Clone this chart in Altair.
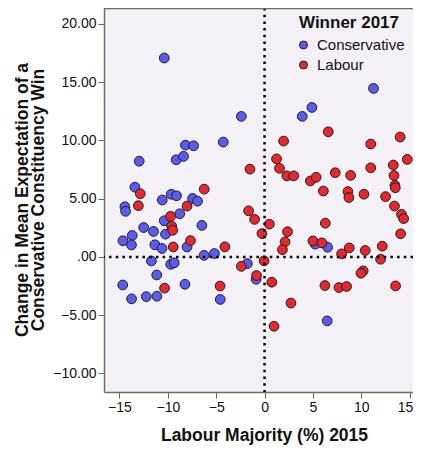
import altair as alt
import pandas as pd

# Conservative winners 2017 (x = Labour majority 2015 %, y = change in expectation)
con_x = [-10.37, -2.4, 11.27, 4.9, 3.9, -8.18, -7.34, -4.27, -12.96, -9.13, -8.38,
         -13.4, -14.44, -14.37, -10.58, -9.65, -9.1, -7.44, -6.93, -8.77, -10.37,
         -6.48, -12.5, -11.48, -13.68, -14.64, -10.24, -13.76, -11.34, -10.6, -8.01,
         -6.25, -5.18, -11.7, -9.7, -9.34, -1.78, -11.15, -0.87, -14.66, -8.23,
         -13.75, -12.23, -11.13, -4.58, 5.24, 6.52, 6.48]
con_y = [17.06, 12.05, 14.45, 12.82, 12.05, 9.59, 9.53, 9.85, 8.21, 8.33, 8.62,
         5.98, 4.3, 3.91, 4.88, 5.37, 5.24, 5.01, 4.78, 3.7, 3.1,
         2.7, 2.52, 2.18, 1.84, 1.38, 1.95, 1.02, 1.04, 0.72, 0.85,
         0.13, 0.29, -0.35, -0.64, -0.51, -0.58, -1.55, -1.92, -2.41, -2.35,
         -3.6, -3.41, -3.37, -3.65, 1.09, 0.83, -5.49]

# Labour winners 2017
lab_x = [-1.51, -12.85, -6.24, -13.05, -8.01, -9.72, -9.6, -9.5, -7.66, -9.44,
         -4.1, -2.4, -0.05, -0.83, 0.75, -10.34, -4.6, 0.98, -1.65, -1.03,
         -0.27, 0.5, 2.38, 2.12, 1.85, 2.73, 6.59, 1.97, 14.02, 10.98,
         1.24, 1.55, 2.31, 3.02, 4.73, 5.33, 7.31, 8.9, 10.98, 14.76,
         13.31, 13.38, 13.48, 13.52, 6.08, 8.62, 8.72, 10.28, 12.51, 13.43,
         14.16, 14.38, 14.07, 6.28, 5.0, 5.93, 7.97, 8.76, 10.41, 12.17,
         12.0, 10.2, 9.97, 6.24, 7.69, 8.48, 13.55]
lab_y = [7.53, 5.42, 5.81, 4.39, 4.36, 3.48, 2.63, 2.28, 1.4, 0.85,
         0.86, -0.81, -0.34, -1.6, -2.17, -2.68, -2.5, -5.95, 3.95, 3.22,
         2.0, 2.81, 2.16, 1.29, 0.62, -3.96, 10.73, 9.93, 10.28, 9.68,
         8.41, 7.59, 6.95, 6.95, 6.51, 6.83, 7.22, 6.99, 7.64, 8.36,
         7.88, 6.98, 6.14, 5.93, 5.65, 5.6, 5.09, 5.38, 5.17, 4.36,
         3.65, 3.28, 1.98, 2.89, 1.37, 1.2, 0.26, 0.77, 0.55, 0.92,
         -0.2, -1.2, -1.4, -2.46, -2.63, -2.54, -2.49]

parties = ["Conservative", "Labour"]
colors = ["#5b5bf3", "#e8262e"]
x_ticks = [-15, -10, -5, 0, 5, 10, 15]
y_ticks = [-10, -5, 0, 5, 10, 15, 20]

df = pd.DataFrame({
    "maj": con_x + lab_x,
    "chg": con_y + lab_y,
    "winner": [parties[0]] * len(con_x) + [parties[1]] * len(lab_x),
})

W, H = 309, 384
FONT = "Liberation Sans"

xscale = alt.Scale(domain=[-16.6, 15.35], nice=False, zero=False)
yscale = alt.Scale(domain=[-11.59, 21.35], nice=False, zero=False)

xaxis = alt.Axis(
    title="Labour Majority (%) 2015", values=x_ticks, format="d", grid=False,
    titleFontSize=17.5, titleFontWeight="bold", titleColor="#111",
    titleX=160, titleY=48, titleBaseline="alphabetic",
    labelFontSize=14, labelColor="#111", labelPadding=2,
    labelOffset={"condition": {"test": "datum.value == 15", "value": -4.5}, "value": 0},
    tickSize=6, tickColor="#666", domainColor="#6b6b6b", domainWidth=1.5,
)
yaxis = alt.Axis(
    title=["Change in Mean Expectation of a", "Conservative Constituency Win"],
    values=y_ticks, grid=False,
    labelExpr="datum.value == 0 ? '.00' : format(datum.value, '.2f')",
    titleFontSize=17.5, titleFontWeight="bold", titleColor="#111",
    titleX=-73, titleY=191.5, titleLineHeight=16, titleBaseline="bottom",
    labelFontSize=14, labelColor="#111", labelPadding=2,
    tickSize=6, tickColor="#666", domainColor="#6b6b6b", domainWidth=1.5,
)

points = alt.Chart(df).mark_circle(
    size=95, opacity=1, stroke="#1e1e1e", strokeWidth=1
).encode(
    x=alt.X("maj:Q", scale=xscale, axis=xaxis),
    y=alt.Y("chg:Q", scale=yscale, axis=yaxis),
    color=alt.Color(
        "winner:N",
        scale=alt.Scale(domain=parties, range=colors),
        legend=alt.Legend(
            title="Winner 2017", orient="none", legendX=195, legendY=7,
            titleFontSize=17, titleFontWeight="bold", titleColor="#111",
            labelFontSize=15, labelColor="#111",
            symbolType="circle", symbolSize=64, symbolOffset=-3,
            symbolStrokeColor="#1e1e1e", symbolStrokeWidth=1,
            padding=0, rowPadding=4, titlePadding=5.5, labelOffset=6,
        ),
    ),
)

zero = pd.DataFrame({"v": [0]})
vline = alt.Chart(zero).mark_rule(
    color="black", strokeWidth=2.5, strokeDash=[2.5, 4.2]
).encode(x=alt.X("v:Q", scale=xscale))
hline = alt.Chart(zero).mark_rule(
    color="black", strokeWidth=2.5, strokeDash=[2.5, 4.2]
).encode(y=alt.Y("v:Q", scale=yscale))
topline = alt.Chart(zero).mark_rule(color="#6b6b6b", strokeWidth=1.5).encode(
    x=alt.value(0), x2=alt.value(W), y=alt.value(0.5)
)

chart = alt.layer(points, vline, hline, topline).properties(
    width=W, height=H,
    autosize=alt.AutoSizeParams(type="none"),
    padding={"left": 96, "top": 0, "right": 0, "bottom": 53},
).configure(
    font=FONT
).configure_view(
    fill="#f4f1f6", stroke=None
)

chart.save("out.html", embed_options={"renderer": "svg", "actions": False})
